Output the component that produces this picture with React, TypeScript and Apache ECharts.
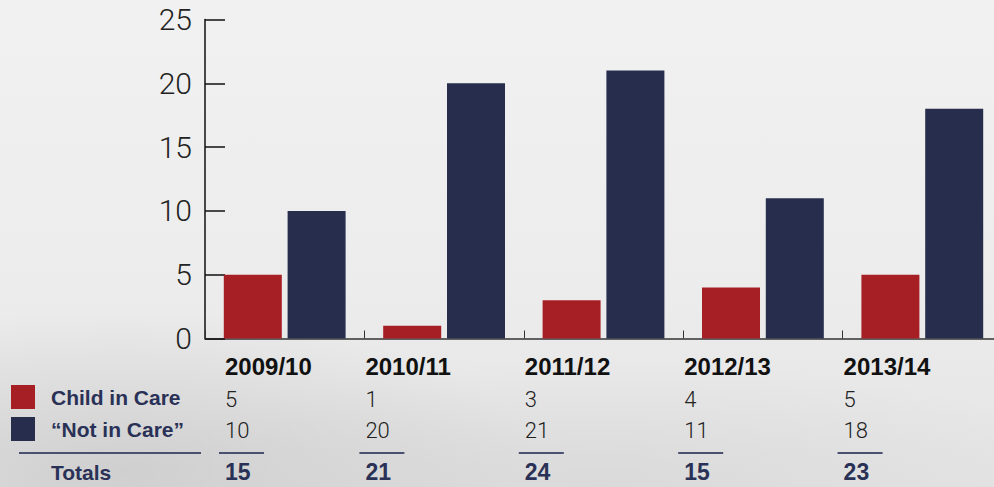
import React, { useEffect, useRef } from "react";
import * as echarts from "echarts";

const categories = ["2009/10", "2010/11", "2011/12", "2012/13", "2013/14"];
const childInCare = [5, 1, 3, 4, 5];
const notInCare = [10, 20, 21, 11, 18];
const seriesNames = ["Child in Care", "\u201CNot in Care\u201D"];
const totalsLabel = "Totals";
const yTicks = [0, 5, 10, 15, 20, 25];

const RED = "#a61f24";
const NAVY = "#272e4d";
const TEXT_NAVY = "#2a3156";

export default function App() {
  const ref = useRef<HTMLDivElement>(null);
  useEffect(() => {
    if (!ref.current) return;
    const chart = echarts.init(ref.current, null, { renderer: "svg" });
    chart.setOption({
      animation: false,
      backgroundColor: "transparent",
      grid: { left: 205, width: 797, top: 19.5, bottom: 148.5, outerBoundsMode: "none", containLabel: false },
      xAxis: {
        type: "category",
        data: categories,
        axisLine: { lineStyle: { color: "#333", width: 1.5 } },
        axisTick: { show: true, inside: true, length: 8, lineStyle: { color: "#333" } },
        axisLabel: { show: false },
      },
      yAxis: {
        type: "value",
        min: yTicks[0],
        max: yTicks[yTicks.length - 1],
        interval: 5,
        axisLine: { show: true, lineStyle: { color: "#111", width: 1.5 } },
        axisTick: { show: true, inside: true, length: 20, lineStyle: { color: "#111", width: 1.5 } },
        axisLabel: {
          margin: 13,
          fontSize: 30,
          fontFamily: "Roboto",
          fontWeight: 300,
          color: "#222",
        },
        splitLine: { show: false },
      },
      series: [
        {
          name: seriesNames[0],
          type: "bar",
          data: childInCare,
          barWidth: 58,
          barGap: "10%",
          itemStyle: { color: RED },
        },
        {
          name: seriesNames[1],
          type: "bar",
          data: notInCare,
          barWidth: 58,
          barGap: "10%",
          itemStyle: { color: NAVY },
        },
      ],
    });

    const c0 = chart.convertToPixel({ xAxisIndex: 0 }, 0) as number;
    const c1 = chart.convertToPixel({ xAxisIndex: 0 }, 1) as number;
    const band = c1 - c0;
    const elements: any[] = [];
    const rowYear = 366;
    const row1 = 399;
    const row2 = 430;
    const lineY = 453;
    const rowTot = 472;

    categories.forEach((cat, i) => {
      const start = c0 + band * i - band / 2;
      const x = i === 0 ? start + 20 : start + 1;
      elements.push(
        {
          type: "text",
          x,
          y: rowYear,
          style: {
            text: cat,
            fontSize: 24,
            fontWeight: "bold",
            fontFamily: "Liberation Sans",
            fill: "#111",
            verticalAlign: "middle",
          },
        },
        {
          type: "text",
          x,
          y: row1,
          style: {
            text: String(childInCare[i]),
            fontSize: 22,
            fontWeight: 300,
            fontFamily: "Roboto",
            fill: "#222",
            verticalAlign: "middle",
          },
        },
        {
          type: "text",
          x,
          y: row2,
          style: {
            text: String(notInCare[i]),
            fontSize: 22,
            fontWeight: 300,
            fontFamily: "Roboto",
            fill: "#222",
            verticalAlign: "middle",
          },
        },
        {
          type: "line",
          shape: { x1: x - 6, y1: lineY, x2: x + 39, y2: lineY },
          style: { stroke: "#4a5070", lineWidth: 2 },
        },
        {
          type: "text",
          x,
          y: rowTot,
          style: {
            text: String(childInCare[i] + notInCare[i]),
            fontSize: 23,
            fontWeight: "bold",
            fontFamily: "Liberation Sans",
            fill: TEXT_NAVY,
            verticalAlign: "middle",
          },
        }
      );
    });

    elements.push(
      { type: "rect", shape: { x: 11, y: 385, width: 24, height: 24 }, style: { fill: RED } },
      { type: "rect", shape: { x: 11, y: 417, width: 24, height: 24 }, style: { fill: NAVY } },
      {
        type: "text",
        x: 51,
        y: row1 - 2,
        style: { text: seriesNames[0], fontSize: 21, fontWeight: "bold", fontFamily: "Liberation Sans", fill: TEXT_NAVY, verticalAlign: "middle" },
      },
      {
        type: "text",
        x: 51,
        y: row2 - 1,
        style: { text: seriesNames[1], fontSize: 21, fontWeight: "bold", fontFamily: "Liberation Sans", fill: TEXT_NAVY, verticalAlign: "middle" },
      },
      {
        type: "line",
        shape: { x1: 19, y1: lineY, x2: 201, y2: lineY },
        style: { stroke: "#4a5070", lineWidth: 2 },
      },
      {
        type: "text",
        x: 51,
        y: rowTot,
        style: { text: totalsLabel, fontSize: 21, fontWeight: "bold", fontFamily: "Liberation Sans", fill: TEXT_NAVY, verticalAlign: "middle" },
      }
    );

    chart.setOption({ graphic: { elements } });

    return () => chart.dispose();
  }, []);

  return (
    <div
      style={{
        position: "fixed",
        left: 0,
        top: 0,
        width: 994,
        height: 487,
        background:
          "radial-gradient(ellipse 420px 160px at 120px 470px, rgba(190,190,190,0.55), rgba(190,190,190,0) 100%), radial-gradient(ellipse 500px 120px at 600px 480px, rgba(205,205,205,0.45), rgba(205,205,205,0) 100%), linear-gradient(#f0f1f0, #ececec 60%, #e4e4e4)",
      }}
    >
      <div ref={ref} style={{ width: 994, height: 487 }} />
    </div>
  );
}
